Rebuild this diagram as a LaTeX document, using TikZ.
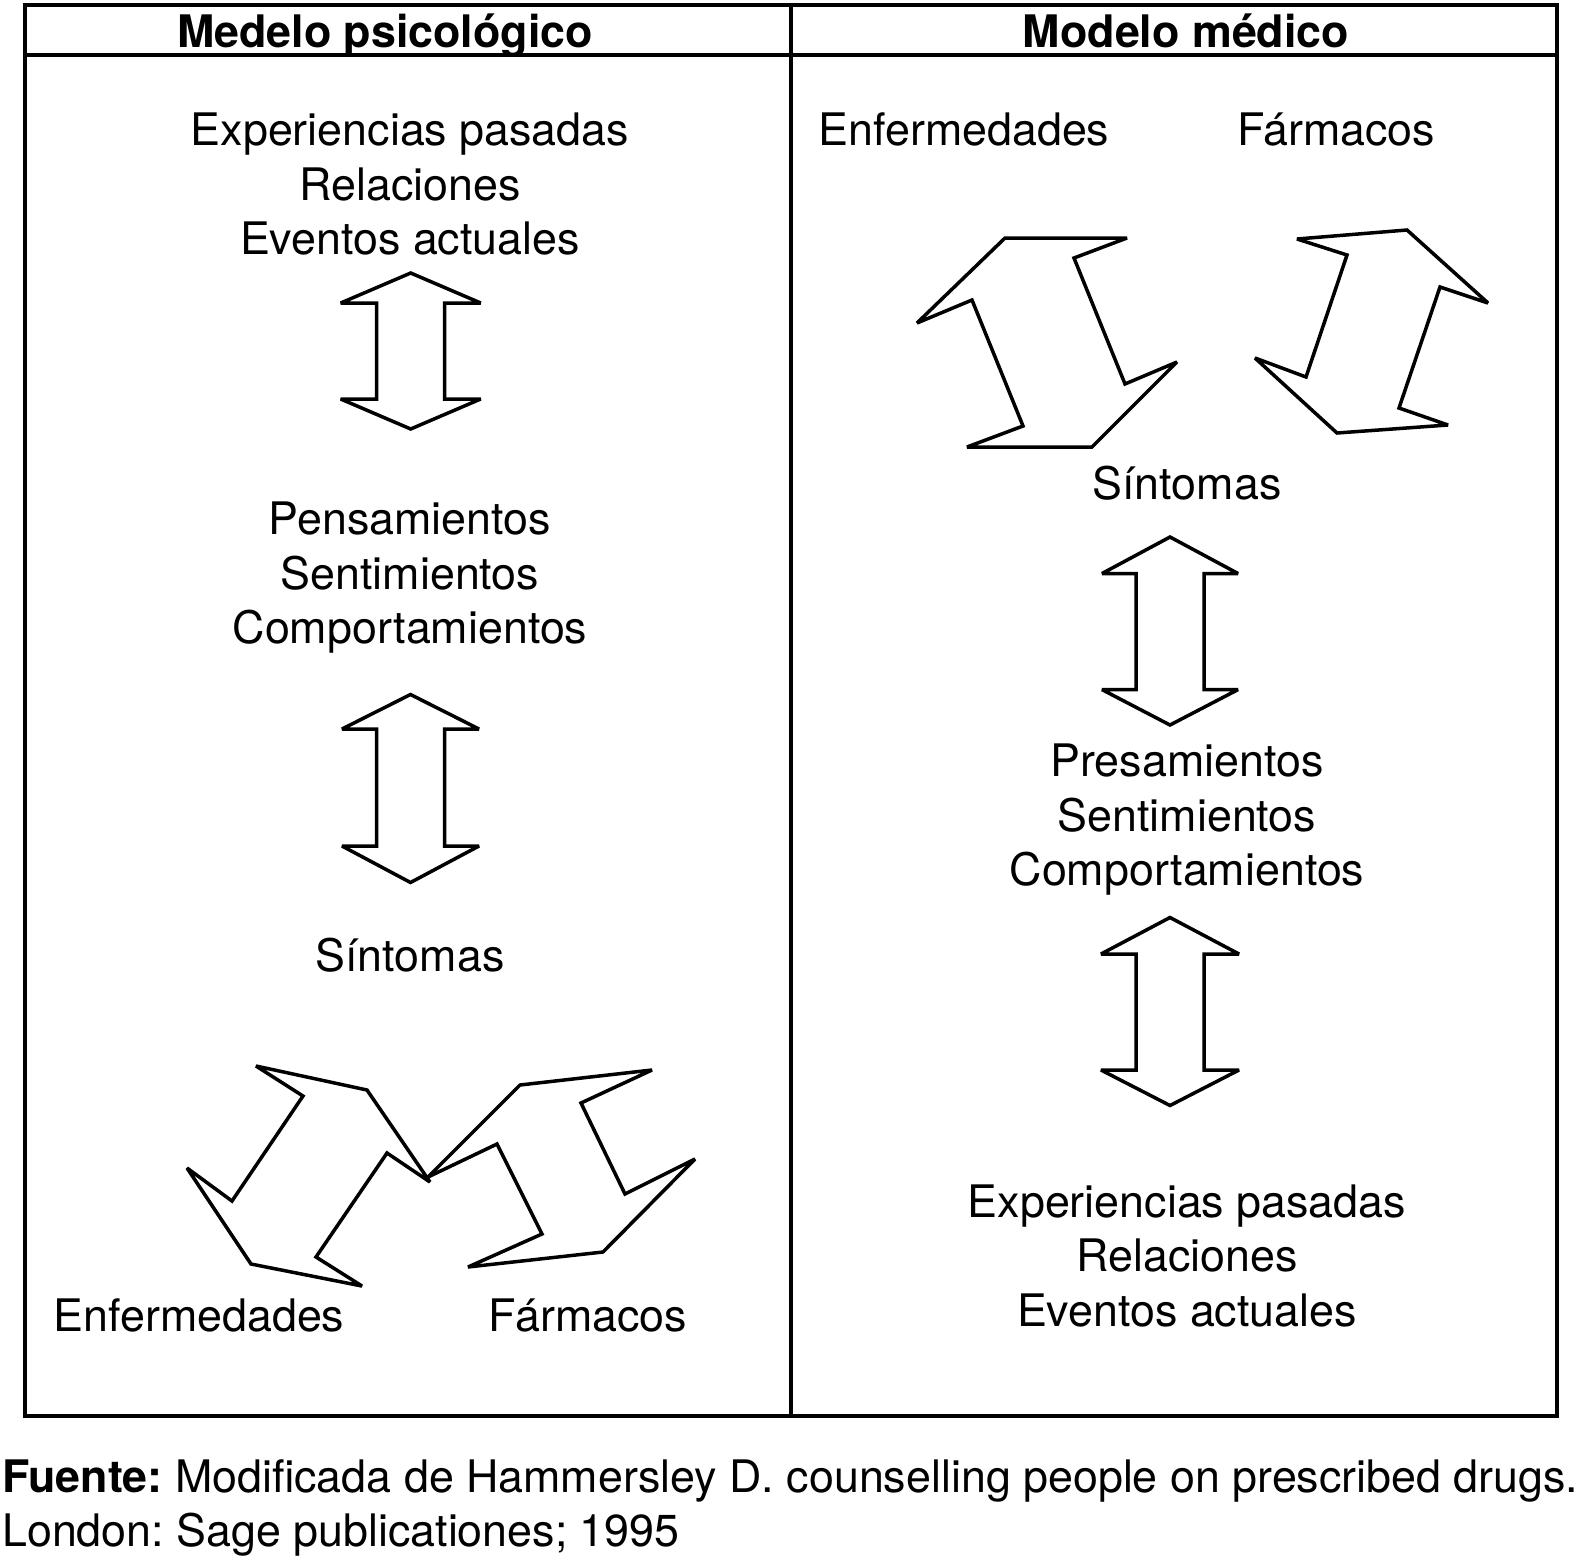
\documentclass[tikz,border=0pt]{standalone}
\usepackage{fontspec}
\setmainfont{TeX Gyre Heros}
\frenchspacing
\newcommand\vdarrow[7]{%
  \draw[blockarrow] (#1,#2) -- (#1+#6,#3) -- (#1+#7,#3) -- (#1+#7,#4) -- (#1+#6,#4) -- (#1,#5)
    -- (#1-#6,#4) -- (#1-#7,#4) -- (#1-#7,#3) -- (#1-#6,#3) -- cycle;}
\begin{document}
\begin{tikzpicture}[x=1pt,y=-1pt,
  frame/.style={draw, line width=4pt},
  blockarrow/.style={draw, line width=3.5pt, line join=miter, miter limit=1.5},
  txt/.style={anchor=base, inner sep=0pt, font=\fontsize{44.8}{54}\selectfont},
  hdr/.style={anchor=base, inner sep=0pt, font=\fontsize{44.8}{54}\selectfont\bfseries},
  note/.style={anchor=base west, inner sep=0pt, font=\fontsize{44.8}{54}\selectfont}]
\useasboundingbox (0,0) rectangle (1583,1556);
% frame
\draw[frame] (25,5) rectangle (1557,1416);
\draw[frame] (25,55) -- (1557,55);
\draw[frame] (791,5) -- (791,1416);
% headers
\node[hdr] (hL) at (385,47) {Medelo psicológico};
\node[hdr] (hR) at (1186,47) {Modelo médico};
% left column texts
\node[txt] (l1) at (410,145) {Experiencias pasadas};
\node[txt] (l2) at (410,200) {Relaciones};
\node[txt] (l3) at (410,254) {Eventos actuales};
\node[txt] (l4) at (410,534) {Pensamientos};
\node[txt] (l5) at (410,589) {Sentimientos};
\node[txt] (l6) at (410,643) {Comportamientos};
\node[txt] (l7) at (410,971) {Síntomas};
\node[txt] (l8) at (199,1331) {Enfermedades};
\node[txt] (l9) at (588,1331) {Fármacos};
% right column texts
\node[txt] (r1) at (964,145) {Enfermedades};
\node[txt] (r2) at (1336,145) {Fármacos};
\node[txt] (r3) at (1187,499) {Síntomas};
\node[txt] (r4) at (1187,776) {Presamientos};
\node[txt] (r5) at (1187,831) {Sentimientos};
\node[txt] (r6) at (1187,885) {Comportamientos};
\node[txt] (r7) at (1187,1217) {Experiencias pasadas};
\node[txt] (r8) at (1187,1271) {Relaciones};
\node[txt] (r9) at (1187,1326) {Eventos actuales};
% source
\node[note] (s1) at (2,1492) {\textbf{Fuente:} Modificada de Hammersley D. counselling people on prescribed drugs.};
\node[note] (s2) at (2,1546) {London: Sage publicationes; 1995};
% vertical double arrows
\vdarrow{410.7}{273}{303}{399}{429}{70}{34}
\vdarrow{410.5}{694.5}{729}{846}{882.5}{68.5}{34}
\vdarrow{1170}{537}{573.5}{689.6}{725}{68}{34}
\vdarrow{1170}{917.5}{954}{1070}{1105.5}{69}{34}
% crooked arrows, left column
\draw[blockarrow] (256,1066) -- (367,1090) -- (430,1182) -- (387,1153) -- (316,1257)
  -- (362,1286) -- (251,1264) -- (187,1168) -- (232,1201) -- (303,1096) -- cycle;
\draw[blockarrow] (428,1177) -- (520,1085) -- (652,1070) -- (581,1103) -- (625,1194)
  -- (695,1159) -- (603,1252) -- (468,1267) -- (542,1234) -- (497,1144) -- cycle;
% crooked arrows, right column
\draw[blockarrow] (1005,238) -- (1127,238) -- (1074,258) -- (1125,384) -- (1177,362)
  -- (1092,447) -- (967,447) -- (1023,426) -- (972,300) -- (917,323) -- cycle;
\draw[blockarrow] (1297,239) -- (1407,230) -- (1488,303) -- (1440,287) -- (1399,408)
  -- (1448,425) -- (1337,433) -- (1255,358) -- (1306,377) -- (1347,255) -- cycle;
\end{tikzpicture}
\end{document}
